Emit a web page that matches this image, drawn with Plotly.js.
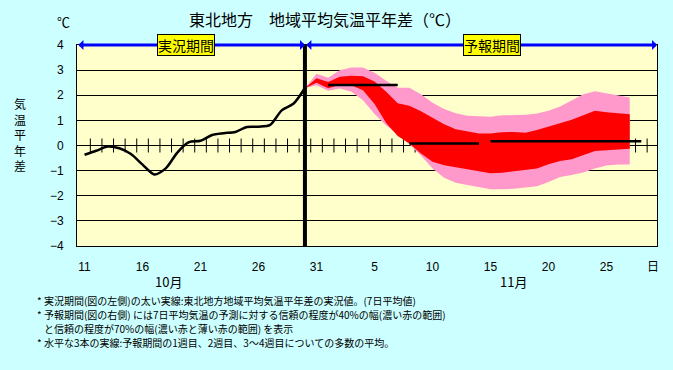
<!DOCTYPE html>
<html><head><meta charset="utf-8">
<script src="https://cdn.plot.ly/plotly-3.0.1.min.js"></script>
<style>html,body{margin:0;padding:0;background:#CCFFFF;overflow:hidden;} #chart{width:673px;height:370px;}</style>
</head><body><div id="chart"></div>
<script>
// Days: Oct 11 – Nov 29
const days = [11,12,13,14,15,16,17,18,19,20,21,22,23,24,25,26,27,28,29,30,31,
              1,2,3,4,5,6,7,8,9,10,11,12,13,14,15,16,17,18,19,20,21,22,23,24,25,26,27,28,29];
// Observed 7-day mean anomaly, Oct 11 – Oct 30
const obsValues = [-0.37,-0.21,-0.04,-0.11,-0.34,-0.76,-1.15,-0.91,-0.28,0.13,
                   0.19,0.42,0.49,0.54,0.74,0.75,0.82,1.40,1.66,2.29];
// Forecast bands, Oct 30 – Nov 27
const fcPinkTop = [2.28,2.86,2.70,3.00,3.10,3.10,2.90,2.58,2.30,2.30,2.04,1.70,1.45,1.28,1.18,
                   1.15,1.14,1.20,1.22,1.22,1.27,1.38,1.55,1.78,2.04,2.16,2.07,1.97,1.91];
const fcRedTop  = [2.28,2.68,2.53,2.74,2.78,2.76,2.55,2.14,1.68,1.58,1.36,1.10,0.85,0.65,0.55,
                   0.48,0.48,0.53,0.54,0.51,0.62,0.76,0.90,1.02,1.20,1.38,1.32,1.27,1.24];
const fcRedBot  = [2.28,2.50,2.28,2.42,2.40,2.20,1.65,0.90,0.38,0.08,-0.32,-0.65,-0.79,-0.87,-0.95,
                   -1.02,-1.10,-1.08,-1.02,-0.98,-0.92,-0.75,-0.62,-0.55,-0.40,-0.22,-0.19,-0.16,-0.13];
const fcPinkBot = [2.28,2.40,2.18,2.27,2.14,1.80,1.25,0.80,0.45,0.05,-0.40,-0.92,-1.28,-1.48,-1.57,
                   -1.65,-1.74,-1.74,-1.72,-1.67,-1.62,-1.45,-1.25,-1.17,-1.07,-0.92,-0.80,-0.76,-0.76];
// Ensemble mean for week 1, week 2, weeks 3-4 (day-of-month of first/last day, November)
const weekMeans = [2.41, 0.08, 0.17];
const weekFirstDay = [1, 8, 15];
const weekLastDay = [7, 14, 28];
const tickLabels = ['11','16','21','26','31','5','10','15','20','25','日'];
const monthLabels = ['10月','11月'];
const yTicks = [-4,-3,-2,-1,0,1,2,3,4];

const FONT = '"Noto Sans CJK JP", "Liberation Sans", sans-serif';
const NUMF = '"Liberation Sans", "Noto Sans CJK JP", sans-serif';

const obsX = obsValues.map((_, i) => i);
const obsEnd = obsX[obsX.length - 1];
const fcX = fcPinkTop.map((_, i) => obsEnd + i);
const novStart = days.indexOf(1);
const xmin = -0.65, xmax = 49.35;

// tick positions from days
const tickVals = [];
let search = 0;
tickLabels.forEach(lab => {
  if (lab === '日') { tickVals.push(days.length - 1); return; }
  const idx = days.indexOf(Number(lab), search);
  tickVals.push(idx); search = idx + 1;
});

// week mean line
const wx = [], wy = [];
weekMeans.forEach((m, k) => {
  wx.push(novStart + weekFirstDay[k] - 1, novStart + weekLastDay[k] - 1, null);
  wy.push(m, m, null);
});

const zeroTicksX = days.slice(0, -1).map((_, i) => i + 0.5);

const traces = [
  {x: zeroTicksX, y: zeroTicksX.map(() => 0), mode: 'markers', type: 'scatter',
   marker: {symbol: 'line-ns', size: 10, line: {width: 1, color: '#000'}}, hoverinfo: 'skip'},
  {x: fcX, y: fcPinkBot, mode: 'lines', line: {width: 0, color: '#FF99CC'}, hoverinfo: 'skip'},
  {x: fcX, y: fcPinkTop, mode: 'lines', fill: 'tonexty', fillcolor: '#FF99CC', line: {width: 0, color: '#FF99CC'}, hoverinfo: 'skip'},
  {x: fcX, y: fcRedBot, mode: 'lines', line: {width: 0, color: '#FF0000'}, hoverinfo: 'skip'},
  {x: fcX, y: fcRedTop, mode: 'lines', fill: 'tonexty', fillcolor: '#FF0000', line: {width: 0, color: '#FF0000'}, hoverinfo: 'skip'},
  {x: obsX, y: obsValues, mode: 'lines', line: {width: 2.5, color: '#000', shape: 'spline', smoothing: 0.8}},
  {x: wx, y: wy, mode: 'lines', line: {width: 2.5, color: '#000'}, connectgaps: false}
];

const px = p => (p - 77) / 580;
const py = p => (246 - p) / 201;
const txt = (x, y, text, size, extra) => Object.assign({x: px(x), y: py(y), xref: 'paper', yref: 'paper', text: text,
  showarrow: false, xanchor: 'center', yanchor: 'middle', font: {family: FONT, size: size, color: '#000'}}, extra || {});

const annotations = [
  {x: obsEnd, y: 4, ax: xmin, ay: 4, xref: 'x', yref: 'y', axref: 'x', ayref: 'y', text: '',
   showarrow: true, arrowside: 'end+start', arrowhead: 1, arrowsize: 0.55, arrowwidth: 3, arrowcolor: '#0000FF', standoff: 0, startstandoff: 0},
  {x: xmax, y: 4, ax: obsEnd, ay: 4, xref: 'x', yref: 'y', axref: 'x', ayref: 'y', text: '',
   showarrow: true, arrowside: 'end+start', arrowhead: 1, arrowsize: 0.55, arrowwidth: 3, arrowcolor: '#0000FF', standoff: 0, startstandoff: 0},
  txt(186, 45, '実況期間', 14, {bgcolor: '#FFFF00', bordercolor: '#000', borderwidth: 1, borderpad: 0}),
  txt(491.5, 45, '予報期間', 14, {bgcolor: '#FFFF00', bordercolor: '#000', borderwidth: 1, borderpad: 0}),
  txt(63, 21, '℃', 13),
  txt(20, 134, '気<br>温<br>平<br>年<br>差', 12),
  txt(168, 281, monthLabels[0], 13),
  txt(513, 281, monthLabels[1], 13)
];
const notes = [
  ['* 実況期間(図の左側)の太い実線:東北地方地域平均気温平年差の実況値。(7日平均値)', 35, 300],
  ['* 予報期間(図の右側) には7日平均気温の予測に対する信頼の程度が40%の幅(濃い赤の範囲)', 35, 314],
  ['と信頼の程度が70%の幅(濃い赤と薄い赤の範囲) を表示', 42, 328],
  ['* 水平な3本の実線:予報期間の1週目、2週目、3～4週目についての多数の平均。', 35, 342]
];
notes.forEach(n => annotations.push(txt(n[1], n[2], n[0], 10, {xanchor: 'left'})));

const layout = {
  width: 673, height: 370,
  margin: {l: 77, r: 16, t: 45, b: 124},
  paper_bgcolor: '#CCFFFF', plot_bgcolor: '#FFFFCC',
  showlegend: false,
  title: {text: '東北地方　地域平均気温平年差（℃）', font: {family: FONT, size: 16, color: '#000'},
          xref: 'container', x: 325 / 673, xanchor: 'center', yref: 'container', y: 1 - 20 / 370, yanchor: 'middle'},
  xaxis: {range: [xmin, xmax], showgrid: false, zeroline: false, showline: true, mirror: true, linecolor: '#000', linewidth: 1,
          tickvals: tickVals, ticktext: tickLabels, ticks: '', ticklabelstandoff: 10, tickfont: {family: NUMF, size: 12, color: '#000'}},
  yaxis: {range: [-4, 4], tickvals: yTicks, showgrid: true, gridcolor: '#000', gridwidth: 1, zeroline: true, zerolinecolor: '#000', zerolinewidth: 1,
          showline: true, mirror: true, linecolor: '#000', linewidth: 1, ticks: '', ticklabelstandoff: 10, tickfont: {family: NUMF, size: 12, color: '#000'}},
  shapes: [{type: 'line', xref: 'x', yref: 'paper', x0: obsEnd, x1: obsEnd, y0: 0, y1: 1, line: {color: '#000', width: 4}}],
  annotations: annotations
};
traces.forEach(t => { if (!t.type) t.type = 'scatter'; t.cliponaxis = true; });
Plotly.newPlot('chart', traces, layout, {staticPlot: true, displayModeBar: false});
</script></body></html>
